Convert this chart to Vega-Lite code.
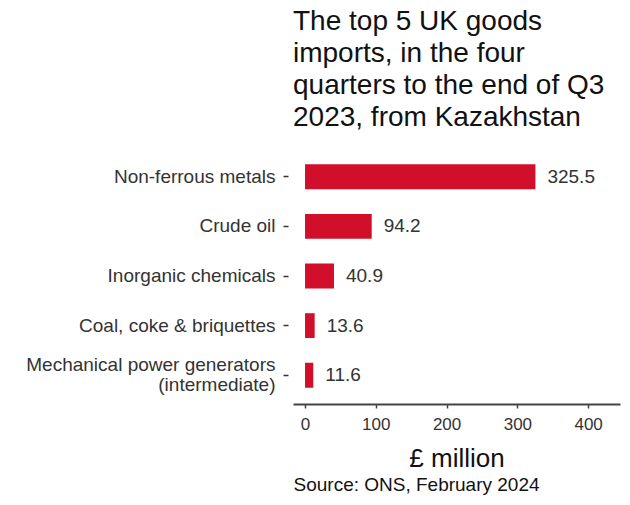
{
  "$schema": "https://vega.github.io/schema/vega-lite/v6.json",
  "autosize": {"type": "none"},
  "padding": {"left": 293, "top": 148, "right": 10, "bottom": 101},
  "width": 327,
  "height": 256,
  "background": "white",
  "config": {
    "view": {"stroke": null},
    "font": "Liberation Sans"
  },
  "title": {
    "text": ["The top 5 UK goods", "imports, in the four", "quarters to the end of Q3", "2023, from Kazakhstan"],
    "anchor": "start",
    "frame": "group",
    "fontSize": 28,
    "fontWeight": "normal",
    "lineHeight": 32,
    "color": "#111111",
    "offset": 16,
    "font": "Liberation Sans"
  },
  "data": {
    "values": [
      {"category": "Non-ferrous metals", "value": 325.5},
      {"category": "Crude oil", "value": 94.2},
      {"category": "Inorganic chemicals", "value": 40.9},
      {"category": "Coal, coke & briquettes", "value": 13.6},
      {"category": "Mechanical power generators|(intermediate)", "value": 11.6}
    ]
  },
  "encoding": {
    "y": {
      "field": "category",
      "type": "nominal",
      "sort": null,
      "scale": {"paddingInner": 0.5, "paddingOuter": 0.33},
      "axis": {
        "title": null,
        "domain": false,
        "ticks": true,
        "tickSize": 5,
        "tickColor": "#333333",
        "tickWidth": 1.5,
        "offset": 5,
        "labelPadding": 8,
        "labelFontSize": 19,
        "labelColor": "#333333",
        "labelLimit": 400,
        "labelExpr": "split(datum.label, '|')",
        "labelLineHeight": 20,
        "labelOffset": {"condition": {"test": "indexof(datum.value, '|') >= 0", "value": -10}, "value": 0}
      }
    }
  },
  "layer": [
    {
      "mark": {"type": "bar", "color": "#d20f2b"},
      "encoding": {
        "x": {
          "field": "value",
          "type": "quantitative",
          "scale": {"domain": [-17, 445], "nice": false, "zero": false},
          "axis": {
            "title": "£ million",
            "titleFontSize": 26,
            "titleFontWeight": "normal",
            "titleColor": "#111111",
            "titlePadding": 13,
            "values": [0, 100, 200, 300, 400],
            "grid": false,
            "domainColor": "#444444",
            "domainWidth": 2,
            "tickColor": "#444444",
            "tickSize": 4,
            "tickWidth": 1.5,
            "labelFontSize": 17,
            "labelColor": "#333333",
            "labelPadding": 8
          }
        },
        "x2": {"datum": 0}
      }
    },
    {
      "mark": {"type": "text", "align": "left", "baseline": "middle", "dx": 12, "fontSize": 19, "color": "#333333"},
      "encoding": {
        "x": {
          "field": "value",
          "type": "quantitative",
          "axis": {
            "orient": "bottom",
            "title": "Source: ONS, February 2024",
            "titleAnchor": "start",
            "titleFontSize": 19,
            "titleFontWeight": "normal",
            "titleColor": "#111111",
            "titlePadding": 71,
            "labels": false,
            "ticks": false,
            "domain": false,
            "grid": false
          }
        },
        "text": {"field": "value", "type": "quantitative", "format": ".1f"}
      }
    }
  ],
  "resolve": {"axis": {"x": "independent"}}
}
